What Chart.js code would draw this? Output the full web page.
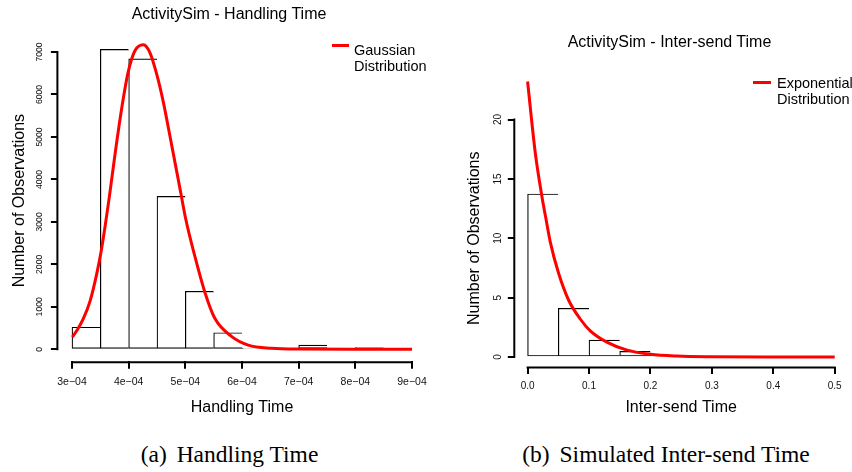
<!DOCTYPE html>
<html><head><meta charset="utf-8">
<script src="https://cdn.jsdelivr.net/npm/chart.js@4.4.1/dist/chart.umd.min.js"></script>
<style>
html,body{margin:0;padding:0;background:#fff;}
body{width:852px;height:472px;position:relative;overflow:hidden;font-family:"Liberation Sans",Arial,Helvetica,sans-serif;}
canvas{position:absolute;top:0;}
#c1{left:0;} #c2{left:430px;}
.t{position:absolute;white-space:nowrap;color:#000;}
.title{font-size:16px;line-height:16px;transform:translateX(-50%);}
.cap{font-family:"Liberation Serif","Times New Roman",serif;font-size:23.5px;line-height:23.5px;transform:translateX(-50%);}
.leg{font-size:14.5px;line-height:16px;}
.legline{position:absolute;height:3px;background:#f00;}
</style></head><body>
<canvas id="c1" width="430" height="420"></canvas>
<canvas id="c2" width="422" height="420"></canvas>
<div class="t title" style="left:229px;top:5.8px">ActivitySim - Handling Time</div>
<div class="t title" style="left:669.5px;top:33.8px">ActivitySim - Inter-send Time</div>
<div class="legline" style="left:332px;top:43.5px;width:17px"></div>
<div class="t leg" style="left:354px;top:42px">Gaussian<br>Distribution</div>
<div class="legline" style="left:753px;top:80.5px;width:18px"></div>
<div class="t leg" style="left:777px;top:75.3px">Exponential<br>Distribution</div>
<div class="t cap" style="left:229.5px;top:443.3px">(a) <span style="margin-left:4px">Handling Time</span></div>
<div class="t cap" style="left:666px;top:443.3px">(b) <span style="margin-left:4px">Simulated Inter-send Time</span></div>
<script>
// ---- Panel (a): Handling Time ----
const hBinCenters = [3.25e-4, 3.75e-4, 4.25e-4, 4.75e-4, 5.25e-4, 5.75e-4, 6.25e-4, 6.75e-4, 7.25e-4, 7.75e-4, 8.25e-4, 8.75e-4];
const hCounts = [520, 7060, 6840, 3600, 1365, 390, 30, 8, 100, 8, 40, 5];
const hCurveX = [3.005e-4, 3.1e-4, 3.2e-4, 3.32e-4, 3.44e-4, 3.52e-4, 3.66e-4, 3.76e-4, 3.88e-4, 3.99e-4, 4.11e-4, 4.26e-4, 4.38e-4, 4.49e-4, 4.61e-4, 4.73e-4, 4.91e-4, 5.01e-4, 5.17e-4, 5.35e-4, 5.52e-4, 5.82e-4, 6.11e-4, 6.52e-4, 7.0e-4, 8.0e-4, 9.0e-4];
const hCurveY = [290, 470, 720, 1140, 1800, 2350, 3600, 4600, 5700, 6520, 7030, 7170, 6970, 6500, 5830, 5010, 3750, 3050, 2180, 1320, 730, 300, 100, 25, 5, 1, 0];
const hXTicks = [3e-4, 4e-4, 5e-4, 6e-4, 7e-4, 8e-4, 9e-4];
const hXTickLabels = ["3e\u221204", "4e\u221204", "5e\u221204", "6e\u221204", "7e\u221204", "8e\u221204", "9e\u221204"];
const hYTicks = [0, 1000, 2000, 3000, 4000, 5000, 6000, 7000];

// ---- Panel (b): Inter-send Time ----
const iBinCenters = [0.025, 0.075, 0.125, 0.175, 0.225, 0.275];
const iCounts = [13.73, 4.10, 1.43, 0.47, 0.15, 0.05];
const iCurveX = [0, 0.0125, 0.0234, 0.0304, 0.0369, 0.0505, 0.0667, 0.0857, 0.102, 0.129, 0.162, 0.2, 0.243, 0.3, 0.4, 0.5];
const iCurveY = [23.2, 17.2, 13.5, 11.5, 9.7, 7.05, 4.8, 3.2, 2.2, 1.25, 0.58, 0.23, 0.08, 0.02, 0, 0];
const iXTicks = [0, 0.1, 0.2, 0.3, 0.4, 0.5];
const iXTickLabels = ["0.0", "0.1", "0.2", "0.3", "0.4", "0.5"];
const iYTicks = [0, 5, 10, 15, 20];

const FF = '"Liberation Sans", Arial, Helvetica, sans-serif';

const axisLines = {
  id: 'axisLines',
  afterDraw(chart) {
    const ctx = chart.ctx;
    const xs = chart.scales.x, ys = chart.scales.y;
    const xt = xs.ticks, yt = ys.ticks;
    ctx.save();
    ctx.strokeStyle = '#000';
    ctx.lineWidth = 2;
    ctx.lineCap = 'square';
    ctx.beginPath();
    ctx.moveTo(xs.getPixelForValue(xt[0].value), xs.top + 1);
    ctx.lineTo(xs.getPixelForValue(xt[xt.length - 1].value), xs.top + 1);
    ctx.moveTo(ys.right - 1, ys.getPixelForValue(yt[0].value));
    ctx.lineTo(ys.right - 1, ys.getPixelForValue(yt[yt.length - 1].value));
    ctx.stroke();
    ctx.restore();
  }
};

function build(id, p) {
  const n = p.centers.length;
  new Chart(document.getElementById(id), {
    type: 'line',
    data: {
      datasets: [
        {
          type: 'line',
          data: p.curveX.map((x, i) => ({x: x, y: p.curveY[i]})),
          borderColor: '#ff0000',
          borderWidth: 3,
          pointRadius: 0,
          fill: false,
          cubicInterpolationMode: 'monotone',
          clip: false,
          order: 0
        },
        {
          type: 'bar',
          data: p.centers.map((x, i) => ({x: x, y: p.counts[i]})),
          backgroundColor: '#ffffff',
          borderColor: '#000',
          borderWidth: (c) => ({left: 1.2, top: 1.2, bottom: 1.2, right: c.dataIndex === n - 1 ? 1.2 : 0}),
          borderSkipped: false,
          barPercentage: 1,
          categoryPercentage: 1,
          order: 1
        }
      ]
    },
    options: {
      animation: false,
      responsive: false,
      devicePixelRatio: 1,
      layout: {padding: p.pad},
      plugins: {legend: {display: false}, tooltip: {enabled: false}},
      scales: {
        x: {
          type: 'linear', min: p.xMin, max: p.xMax, offset: false,
          afterBuildTicks(s) { s.ticks = p.xTicks.map(v => ({value: v})); },
          afterFit(s) { s.height = p.xH; s.paddingLeft = 0; s.paddingRight = 0; },
          grid: {drawOnChartArea: false, drawTicks: true, tickLength: 7.5, color: '#000', lineWidth: 2, offset: false},
          border: {display: false},
          ticks: {autoSkip: false, maxRotation: 0, minRotation: 0, padding: p.xPad, color: '#111',
                  font: {size: p.xFont, family: FF}, callback: (v, i) => p.xLabels[i]},
          title: {display: true, text: p.xTitle, color: '#000', font: {size: 16, family: FF}, padding: {top: 0, bottom: 3.3}}
        },
        y: {
          type: 'linear', min: p.yMin, max: p.yMax,
          afterBuildTicks(s) { s.ticks = p.yTicks.map(v => ({value: v})); },
          afterFit(s) { s.width = p.yW; s.paddingTop = 0; s.paddingBottom = 0; },
          grid: {drawOnChartArea: false, drawTicks: true, tickLength: 7.5, color: '#000', lineWidth: 2},
          border: {display: false},
          ticks: {autoSkip: false, minRotation: 90, maxRotation: 90, crossAlign: 'center', padding: p.yPad, color: '#111',
                  font: {size: p.yFont, family: FF}, callback: (v, i) => String(p.yTicks[i])},
          title: {display: true, text: 'Number of Observations', color: '#000', font: {size: 16, family: FF}, padding: {top: p.yTitlePad, bottom: 0}}
        }
      }
    },
    plugins: [axisLines]
  });
}

build('c1', {
  centers: hBinCenters, counts: hCounts, curveX: hCurveX, curveY: hCurveY,
  xTicks: hXTicks, xLabels: hXTickLabels, yTicks: hYTicks,
  xMin: 2.76e-4, xMax: 9.24e-4, yMin: -280, yMax: 7280,
  pad: {left: 0, right: 4.4, top: 40.1, bottom: 0},
  xH: 58.8, yW: 58.4, xPad: 6.7, yPad: 1.4, xFont: 10.5, yFont: 8.6, yTitlePad: 9.8,
  xTitle: 'Handling Time'
});
build('c2', {
  centers: iBinCenters, counts: iCounts, curveX: iCurveX, curveY: iCurveY,
  xTicks: iXTicks, xLabels: iXTickLabels, yTicks: iYTicks,
  xMin: -0.02, xMax: 0.52, yMin: -0.8, yMax: 20.8,
  pad: {left: 0, right: 5, top: 110, bottom: 0},
  xH: 53.5, yW: 85.3, xPad: 5.8, yPad: 3.9, xFont: 10, yFont: 10, yTitlePad: 34.8,
  xTitle: 'Inter-send Time'
});
</script>
</body></html>
